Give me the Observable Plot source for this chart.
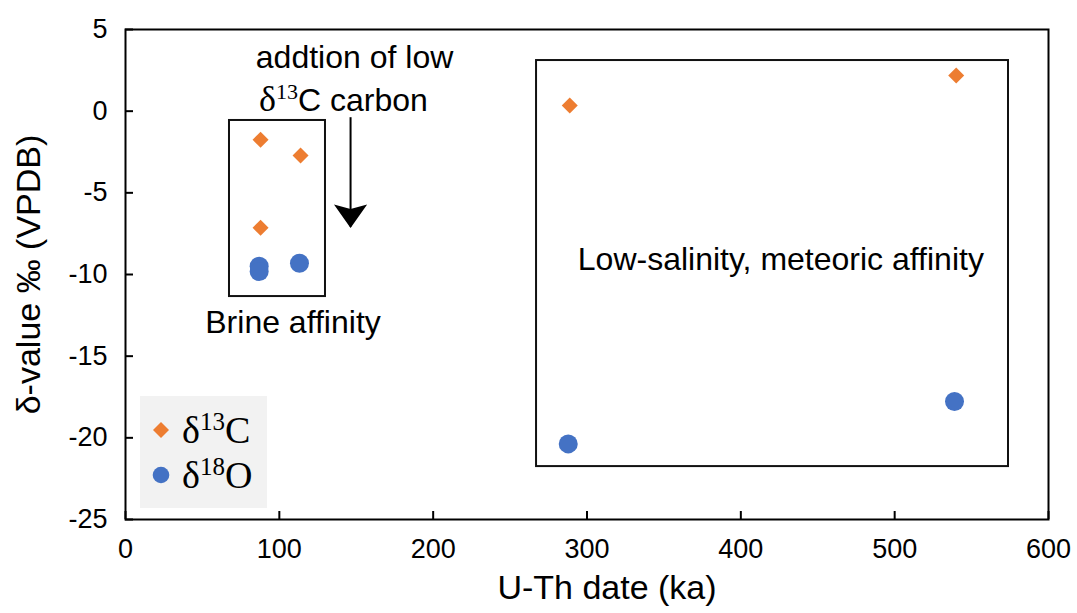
<!DOCTYPE html>
<html><head><meta charset="utf-8">
<script src="https://cdn.jsdelivr.net/npm/d3@7"></script>
<script src="https://cdn.jsdelivr.net/npm/@observablehq/plot@0.6"></script>
<style>
body{margin:0;background:#fff;}
#wrap{position:relative;width:1077px;height:613px;font-family:"Liberation Sans",Arial,sans-serif;}
#legend{position:absolute;left:140px;top:396px;width:127px;height:112px;background:#f2f2f2;}
.li{position:absolute;left:12px;font-family:"Liberation Serif","Times New Roman",serif;font-size:38px;line-height:36px;color:#000;white-space:nowrap;}
.li svg{vertical-align:middle;margin-right:12px;position:relative;top:-4px;}
.li sup{font-size:25px;vertical-align:0;position:relative;top:-13px;}
</style></head><body><div id="wrap"></div>
<script>
// δ13C series
const c13Date = [87.8, 113.8, 87.8, 288.8, 540];
const c13Val  = [-1.75, -2.72, -7.14, 0.35, 2.18];
// δ18O series
const o18Date = [86.9, 86.9, 113.1, 287.8, 538.9];
const o18Val  = [-9.5, -9.82, -9.31, -20.37, -17.78];
// ticks
const xTicks = [0, 100, 200, 300, 400, 500, 600];
const yTicks = [5, 0, -5, -10, -15, -20, -25];
// annotation boxes
const boxX1 = [67.6, 267.2];
const boxX2 = [130.0, 574.0];
const boxY1 = [-0.57, 3.1];
const boxY2 = [-11.35, -21.76];
// annotation texts
const noteText = ["addtion of low", "δ13C carbon", "Brine affinity", "Low-salinity, meteoric affinity"];
const noteX = [148.9, 141.7, 108.9, 426.0];
const noteY = [3.29, 0.65, -12.94, -9.08];
// arrow
const arrowX = [146.3];
const arrowY1 = [-0.4];
const arrowY2 = [-7.1];

const W = 1077, H = 613, mL = 125, mR = 29, mT = 29, mB = 94;
const plotW = W - mL - mR, plotH = H - mT - mB;

const c13 = c13Date.map((d, i) => ({date: d, v: c13Val[i]}));
const o18 = o18Date.map((d, i) => ({date: d, v: o18Val[i]}));
const boxes = boxX1.map((d, i) => ({x1: d, x2: boxX2[i], y1: boxY1[i], y2: boxY2[i]}));
const notes = noteText.map((t, i) => ({t, x: noteX[i], y: noteY[i]}));
const arrows = arrowX.map((d, i) => ({x: d, y1: arrowY1[i], y2: arrowY2[i]}));

const headSymbol = {
  draw(ctx, size) {
    const w = Math.sqrt(size) * 0.55, h = Math.sqrt(size) * 0.78;
    ctx.moveTo(0, h * 0.5);
    ctx.lineTo(-w, -h * 0.5);
    ctx.lineTo(0, -h * 0.3);
    ctx.lineTo(w, -h * 0.5);
    ctx.closePath();
  }
};

const fmt = d => String(d);

const chart = Plot.plot({
  width: W, height: H,
  marginLeft: mL, marginRight: mR, marginTop: mT, marginBottom: mB,
  style: {fontFamily: "'Liberation Sans', Arial, sans-serif", color: "#000", background: "#fff", overflow: "visible"},
  x: {domain: [0, 600]},
  y: {domain: [-25, 5]},
  marks: [
    Plot.rect(boxes, {x1: "x1", x2: "x2", y1: "y1", y2: "y2", fill: "none", stroke: "#111", strokeWidth: 2}),
    Plot.ruleX(arrows, {x: "x", y1: "y1", y2: "y2", stroke: "#000", strokeWidth: 2}),
    Plot.dot(arrows, {x: "x", y: "y2", symbol: headSymbol, r: 17, fill: "#000", stroke: "none", dy: -11}),
    Plot.dot(o18, {x: "date", y: "v", symbol: "circle", r: 9.5, fill: "#4472C4", stroke: "none"}),
    Plot.dot(c13, {x: "date", y: "v", symbol: "diamond2", r: 7.2, fill: "#ED7D31", stroke: "none"}),
    Plot.text(notes, {x: "x", y: "y", text: "t", fontSize: 32, fill: "#000"}),
    Plot.tickX(xTicks, {x: d => d, insetTop: plotH - 8, stroke: "#000", strokeWidth: 2}),
    Plot.tickY(yTicks, {y: d => d, insetRight: plotW - 8, stroke: "#000", strokeWidth: 2}),
    Plot.axisX(xTicks, {tickSize: 0, tickPadding: 19, fontSize: 27, tickFormat: fmt, label: null}),
    Plot.axisY(yTicks, {tickSize: 0, tickPadding: 18, fontSize: 27, tickFormat: fmt, label: null}),
    Plot.axisY({ticks: [], tickSize: 0, label: "δ-value ‰ (VPDB)", labelArrow: false, labelAnchor: "center", labelOffset: 110, fontSize: 34}),
    Plot.text(["U-Th date (ka)"], {frameAnchor: "bottom", dy: 79, dx: 20, fontSize: 34, fill: "#000"}),
    Plot.frame({stroke: "#000", strokeWidth: 2})
  ]
});

document.getElementById("wrap").appendChild(chart);

// superscript in annotation; strip any label arrow left by the axis
d3.select(chart).selectAll("text").each(function() {
  if (this.textContent === "δ13C carbon" && this.children.length === 0) {
    const t = d3.select(this);
    t.text("");
    t.append("tspan").attr("font-family", "'Liberation Serif', 'Times New Roman', serif").attr("font-size", 36).text("δ");
    t.append("tspan").attr("font-family", "'Liberation Serif', 'Times New Roman', serif").attr("font-size", 22).attr("dy", -12).text("13");
    t.append("tspan").attr("dy", 12).text("C carbon");
  } else if (this.children.length === 0 && /VPDB\)\s*[↑→←↓]$/.test(this.textContent)) {
    this.textContent = "δ-value ‰ (VPDB)";
  }
});

// legend
const legend = document.createElement("div");
legend.id = "legend";
legend.innerHTML =
  '<div class="li" style="top:16px"><svg width="18" height="18" viewBox="-9 -9 18 18"><path d="M0,-8L8,0L0,8L-8,0Z" fill="#ED7D31"/></svg>δ<sup>13</sup>C</div>' +
  '<div class="li" style="top:61px"><svg width="18" height="18" viewBox="-9 -9 18 18"><circle r="8.3" fill="#4472C4"/></svg>δ<sup>18</sup>O</div>';
document.getElementById("wrap").appendChild(legend);
</script></body></html>
